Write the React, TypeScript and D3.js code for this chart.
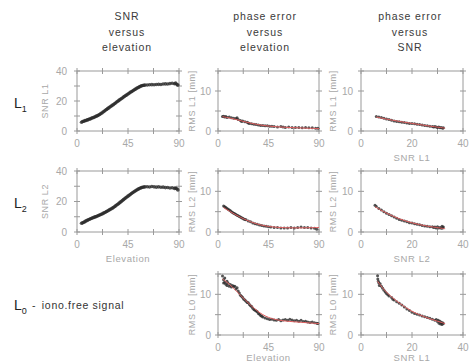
import React from "react";
import * as d3 from "d3";

type Pt = [number, number];

// ---- data ----
const elevTicks = [0, 45, 90];
const elevMinor = [22.5, 67.5];
const snrTicks = [0, 20, 40];
const snrMinor = [10, 30];
const rmsTicks = [0, 10];
const rmsMinor = [5, 15];

const snrL1Elev: Pt[] = [
  [4, 5.8], [5, 6.3], [6, 6.5], [7, 6.9], [8, 7.0], [9, 7.4], [10, 7.6], [11, 8.0], [12, 8.1], [13, 8.6],
  [14, 8.8], [15, 9.1], [16, 9.5], [17, 9.9], [18, 10.2], [19, 10.6], [20, 11.0], [21, 11.6], [22, 12.0],
  [23, 12.7], [24, 13.2], [25, 13.8], [26, 14.3], [27, 14.9], [28, 15.4], [29, 16.0], [30, 16.5], [31, 17.1],
  [32, 17.5], [33, 18.2], [34, 18.7], [35, 19.3], [36, 19.8], [37, 20.4], [38, 21.0], [39, 21.5], [40, 22.0],
  [41, 22.6], [42, 23.1], [43, 23.7], [44, 24.1], [45, 24.7], [46, 25.2], [47, 25.8], [48, 26.2], [49, 26.7],
  [50, 27.2], [51, 27.7], [52, 28.1], [53, 28.6], [54, 29.0], [55, 29.4], [56, 29.8], [57, 30.1], [58, 30.3],
  [59, 30.5], [60, 30.6], [62, 30.7], [64, 30.8], [66, 30.9], [68, 30.8], [70, 31.0], [72, 31.1], [74, 31.0],
  [76, 31.3], [78, 31.4], [80, 31.3], [82, 31.6], [84, 31.8], [86, 31.5], [87, 31.9], [88, 31.2], [89, 30.6],
];

const snrL2Elev: Pt[] = [
  [4, 5.7], [5, 6.0], [6, 6.4], [7, 6.8], [8, 7.3], [9, 7.6], [10, 8.0], [11, 8.4], [12, 8.7], [13, 9.0],
  [14, 9.3], [15, 9.6], [16, 9.9], [17, 10.2], [18, 10.5], [19, 10.8], [20, 11.1], [21, 11.5], [22, 11.8],
  [23, 12.2], [24, 12.6], [25, 13.0], [26, 13.4], [27, 13.8], [28, 14.3], [29, 14.7], [30, 15.1], [31, 15.6],
  [32, 16.0], [33, 16.6], [34, 17.1], [35, 17.7], [36, 18.2], [37, 18.8], [38, 19.4], [39, 20.0], [40, 20.6],
  [41, 21.2], [42, 21.8], [43, 22.4], [44, 23.0], [45, 23.5], [46, 24.1], [47, 24.6], [48, 25.2], [49, 25.7],
  [50, 26.2], [51, 26.7], [52, 27.2], [53, 27.7], [54, 28.1], [55, 28.5], [56, 28.9], [57, 29.1], [58, 29.3],
  [59, 29.5], [60, 29.6], [62, 29.7], [64, 29.5], [66, 29.8], [68, 29.6], [70, 29.4], [72, 29.6], [74, 29.3],
  [76, 29.4], [78, 29.1], [80, 29.2], [82, 28.9], [84, 29.0], [86, 28.6], [87, 28.9], [88, 28.4], [89, 27.6],
];

const rmsL1Elev: Pt[] = [
  [4, 3.6], [5, 3.7], [6, 3.5], [7, 3.6], [8, 3.4], [10, 3.5], [12, 3.3], [14, 3.2], [16, 3.1], [17, 3.3],
  [18, 2.9], [20, 2.6], [21, 2.4], [22, 2.5], [24, 2.3], [26, 2.2], [27, 2.0], [28, 1.9], [30, 1.8], [32, 1.7],
  [34, 1.6], [36, 1.5], [38, 1.4], [40, 1.4], [42, 1.3], [44, 1.3], [46, 1.2], [48, 1.2], [50, 1.1], [53, 1.0],
  [56, 1.1], [58, 1.0], [60, 0.9], [63, 1.0], [66, 0.9], [69, 0.9], [72, 0.9], [75, 0.8], [78, 0.9], [81, 0.8],
  [84, 0.8], [87, 0.7], [89, 0.7],
];
const rmsL1ElevFit: Pt[] = [[4, 3.6], [15, 3.0], [25, 2.2], [35, 1.6], [45, 1.2], [60, 0.9], [75, 0.75], [90, 0.6]];

const rmsL2Elev: Pt[] = [
  [5, 6.4], [6, 6.2], [7, 6.0], [8, 5.8], [9, 5.6], [10, 5.4], [11, 5.2], [12, 5.0], [13, 4.8], [14, 4.6],
  [15, 4.5], [16, 4.3], [17, 4.1], [18, 4.0], [19, 3.8], [20, 3.7], [21, 3.5], [22, 3.4], [23, 3.2], [24, 3.1],
  [25, 3.0], [27, 2.7], [29, 2.5], [31, 2.2], [33, 2.0], [35, 1.9], [37, 1.7], [39, 1.6], [41, 1.5], [43, 1.4],
  [45, 1.3], [47, 1.2], [50, 1.1], [53, 1.1], [56, 1.0], [59, 1.0], [62, 1.0], [65, 1.1], [68, 1.0], [71, 1.1],
  [74, 1.2], [77, 1.1], [80, 1.1], [83, 1.0], [86, 0.9], [88, 0.7],
];
const rmsL2ElevFit: Pt[] = [[5, 6.0], [15, 4.3], [25, 2.9], [35, 1.9], [45, 1.3], [60, 1.0], [75, 1.0], [90, 1.1]];

const rmsL0Elev: Pt[] = [
  [4, 14.5], [5, 13.6], [5, 12.8], [6, 14.0], [6, 13.0], [7, 12.5], [8, 13.2], [8, 12.2], [9, 12.7], [10, 12.0],
  [11, 12.4], [12, 11.8], [13, 12.2], [14, 11.9], [15, 12.0], [16, 11.3], [17, 11.6], [18, 10.8], [19, 10.3],
  [20, 9.8], [21, 9.5], [22, 9.2], [23, 8.8], [24, 8.6], [25, 8.3], [26, 8.0], [27, 7.9], [28, 7.5], [29, 7.2],
  [30, 7.0], [31, 6.6], [32, 6.3], [33, 6.1], [34, 5.9], [35, 5.7], [36, 5.3], [37, 5.1], [38, 4.8], [39, 4.6],
  [40, 4.4], [42, 4.2], [44, 4.0], [46, 3.8], [48, 3.9], [50, 3.7], [52, 3.6], [54, 3.8], [56, 3.5], [58, 3.7],
  [60, 3.8], [62, 3.6], [64, 3.9], [66, 3.7], [68, 3.5], [70, 3.6], [72, 3.4], [74, 3.6], [76, 3.3], [78, 3.4],
  [80, 3.2], [82, 3.1], [84, 3.2], [86, 3.0], [88, 2.9], [89, 2.8],
];
const rmsL0ElevFit: Pt[] = [[4, 13.8], [10, 12.6], [20, 9.8], [30, 7.0], [40, 4.8], [50, 3.8], [60, 3.4], [75, 3.1], [90, 2.8]];

const rmsL1Snr: Pt[] = [
  [6, 3.6], [7, 3.5], [8, 3.4], [9, 3.2], [10, 3.0], [11, 2.9], [12, 2.7], [13, 2.5], [14, 2.4], [15, 2.3],
  [16, 2.2], [17, 2.1], [18, 2.0], [19, 1.9], [20, 1.9], [21, 1.8], [22, 1.7], [23, 1.6], [24, 1.5], [25, 1.4],
  [26, 1.3], [27, 1.2], [28, 1.1], [28.5, 1.0], [29, 1.1], [29.5, 1.0], [30, 0.9], [30.5, 1.0], [31, 0.8],
  [31.5, 0.9], [32, 0.7], [32.3, 0.8],
];
const rmsL1SnrFit: Pt[] = [[6, 3.5], [12, 2.7], [20, 1.9], [26, 1.3], [32, 0.8], [33, 0.7]];

const rmsL2Snr: Pt[] = [
  [5.5, 6.6], [6, 6.3], [7, 5.8], [8, 5.4], [9, 5.0], [10, 4.6], [11, 4.3], [12, 4.0], [13, 3.7], [14, 3.4],
  [15, 3.1], [16, 2.9], [17, 2.7], [18, 2.5], [19, 2.3], [20, 2.2], [21, 2.0], [22, 1.9], [23, 1.8], [24, 1.6],
  [25, 1.5], [26, 1.4], [27, 1.3], [28, 1.3], [28.5, 1.1], [29, 1.2], [29.5, 1.0], [30, 1.3], [30.5, 1.0],
  [31, 1.1], [31.5, 0.9], [31.8, 1.4], [32, 1.0], [32.3, 1.2],
];
const rmsL2SnrFit: Pt[] = [[5.5, 6.2], [10, 4.6], [15, 3.2], [20, 2.2], [26, 1.4], [31, 1.0], [33, 0.8]];

const rmsL0Snr: Pt[] = [
  [6.5, 14.6], [6.6, 13.8], [6.8, 13.2], [7, 12.8], [7.2, 12.2], [7.5, 12.6], [8, 12.0], [8.5, 11.5], [9, 11.0],
  [9.5, 10.6], [10, 10.2], [10.5, 9.9], [11, 9.6], [12, 9.2], [12.5, 8.8], [13, 8.6], [14, 8.2], [15, 7.8],
  [16, 7.4], [17, 6.9], [18, 6.4], [19, 6.0], [20, 5.6], [21, 5.3], [22, 5.1], [23, 4.9], [24, 4.7], [25, 4.5],
  [26, 4.3], [27, 4.1], [28, 3.9], [29, 3.6], [29.5, 3.8], [30, 3.3], [30.3, 3.6], [30.6, 2.9], [31, 3.4],
  [31.2, 2.7], [31.5, 3.1], [31.8, 2.6], [32, 3.0], [32.3, 2.8],
];
const rmsL0SnrFit: Pt[] = [[6.5, 13.2], [10, 10.3], [15, 7.8], [20, 5.7], [25, 4.4], [30, 3.4], [33, 2.8]];

// ---- drawing ----
const AXIS = "#9a9a9a";
const LABEL = "#a8a8a8";
const FONT = "Liberation Sans, Arial, sans-serif";

interface PanelProps {
  x0: number; x1: number; y0: number; y1: number;
  xDomain: [number, number]; yDomain: [number, number];
  xTicks: number[]; xMinor: number[]; yTicks: number[]; yMinor: number[];
  points: Pt[]; fit?: Pt[];
  yLabel: string; yLabelX: number; yTickX: number;
  xLabel?: string; xLabelDy?: number; r?: number;
}

function Panel(p: PanelProps) {
  const x = d3.scaleLinear().domain(p.xDomain).range([p.x0, p.x1]);
  const y = d3.scaleLinear().domain(p.yDomain).range([p.y1, p.y0]);
  const line = d3.line<Pt>().x((d) => x(d[0])).y((d) => y(d[1])).curve(d3.curveBasis);
  const t = 3;
  const allX = [...p.xTicks, ...p.xMinor];
  const allY = [...p.yTicks, ...p.yMinor];
  const ymid = (p.y0 + p.y1) / 2;
  return (
    <g>
      <rect x={p.x0} y={p.y0} width={p.x1 - p.x0} height={p.y1 - p.y0} fill="none" stroke={AXIS} strokeWidth={1} />
      {allX.map((v, i) => (
        <g key={"xt" + i}>
          <line x1={x(v)} x2={x(v)} y1={p.y1 - t} y2={p.y1 + t} stroke={AXIS} />
          <line x1={x(v)} x2={x(v)} y1={p.y0 - t} y2={p.y0 + t} stroke={AXIS} />
        </g>
      ))}
      {allY.map((v, i) => (
        <g key={"yt" + i}>
          <line x1={p.x0 - t} x2={p.x0 + t} y1={y(v)} y2={y(v)} stroke={AXIS} />
          <line x1={p.x1 - t} x2={p.x1 + t} y1={y(v)} y2={y(v)} stroke={AXIS} />
        </g>
      ))}
      {p.xTicks.map((v, i) => (
        <text key={"xl" + i} x={x(v)} y={p.y1 + 16} textAnchor="middle" fontSize={10} fill={LABEL} fontFamily={FONT}>
          {v}
        </text>
      ))}
      {p.yTicks.map((v, i) => (
        <text key={"yl" + i} x={p.yTickX} y={y(v) + 3.5} textAnchor="end" fontSize={10} fill={LABEL} fontFamily={FONT}>
          {v}
        </text>
      ))}
      <text
        transform={`translate(${p.yLabelX},${ymid}) rotate(-90)`}
        textAnchor="middle"
        dy="0.35em"
        fontSize={9}
        letterSpacing={0.6}
        fill={LABEL}
        fontFamily={FONT}
      >
        {p.yLabel}
      </text>
      {p.xLabel && (
        <text
          x={(p.x0 + p.x1) / 2}
          y={p.y1 + (p.xLabelDy ?? 30)}
          textAnchor="middle"
          fontSize={9.5}
          letterSpacing={0.6}
          fill={LABEL}
          fontFamily={FONT}
        >
          {p.xLabel}
        </text>
      )}
      {p.points.map((d, i) => (
        <circle key={"p" + i} cx={x(d[0])} cy={y(d[1])} r={p.r ?? 1.5} fill="#2a2a2a" opacity={0.8} />
      ))}
      {p.fit && <path d={line(p.fit) || ""} fill="none" stroke="#e06060" strokeWidth={1} />}
    </g>
  );
}

const cols = [
  { x0: 77, x1: 179, yLabelX: 45, yTickX: 67 },
  { x0: 218, x1: 319, yLabelX: 192, yTickX: 211 },
  { x0: 361, x1: 463, yLabelX: 333, yTickX: 353 },
];
const rows = [
  { y0: 71, y1: 131 },
  { y0: 171, y1: 232 },
  { y0: 274, y1: 335 },
];

const titles = [
  { cx: 127, lines: ["SNR", "versus", "elevation"] },
  { cx: 265, lines: ["phase error", "versus", "elevation"] },
  { cx: 410, lines: ["phase error", "versus", "SNR"] },
];

export default function App() {
  const elevCommon = { xDomain: [0, 90] as [number, number], xTicks: elevTicks, xMinor: elevMinor };
  const snrCommon = { xDomain: [0, 40] as [number, number], xTicks: snrTicks, xMinor: snrMinor };
  const snrY = { yDomain: [0, 40] as [number, number], yTicks: snrTicks, yMinor: snrMinor };
  const rmsY = { yDomain: [0, 15] as [number, number], yTicks: rmsTicks, yMinor: rmsMinor };
  return (
    <svg width={473} height={362} style={{ position: "absolute", left: 0, top: 0, background: "#fff" }}>
      <rect width={473} height={362} fill="#fff" />
      {titles.map((t, i) => (
        <g key={"t" + i}>
          {t.lines.map((l, j) => (
            <text key={j} x={t.cx} y={20 + j * 15.7} textAnchor="middle" fontSize={10.5} letterSpacing={0.9} fill="#3a3a3a" fontFamily={FONT}>
              {l}
            </text>
          ))}
        </g>
      ))}
      {[
        { y: 108, sub: "1" },
        { y: 208, sub: "2" },
        { y: 310, sub: "0" },
      ].map((r, i) => (
        <text key={"L" + i} x={14} y={r.y} fontSize={14} fill="#222" fontFamily={FONT}>
          L<tspan fontSize={9} dy={4}>{r.sub}</tspan>
        </text>
      ))}
      <text x={32} y={309} fontSize={10.5} letterSpacing={0.7} fill="#333" fontFamily={FONT}>
        - <tspan dx={2}>iono.free signal</tspan>
      </text>

      <Panel {...cols[0]} {...rows[0]} {...elevCommon} {...snrY} points={snrL1Elev} yLabel="SNR L1" r={1.8} />
      <Panel {...cols[1]} {...rows[0]} {...elevCommon} {...rmsY} points={rmsL1Elev} fit={rmsL1ElevFit} yLabel="RMS L1 [mm]" />
      <Panel {...cols[2]} {...rows[0]} {...snrCommon} {...rmsY} points={rmsL1Snr} fit={rmsL1SnrFit} yLabel="RMS L1 [mm]" xLabel="SNR L1" />

      <Panel {...cols[0]} {...rows[1]} {...elevCommon} {...snrY} points={snrL2Elev} yLabel="SNR L2" xLabel="Elevation" r={1.8} />
      <Panel {...cols[1]} {...rows[1]} {...elevCommon} {...rmsY} points={rmsL2Elev} fit={rmsL2ElevFit} yLabel="RMS L2 [mm]" />
      <Panel {...cols[2]} {...rows[1]} {...snrCommon} {...rmsY} points={rmsL2Snr} fit={rmsL2SnrFit} yLabel="RMS L2 [mm]" xLabel="SNR L2" />

      <Panel {...cols[1]} {...rows[2]} {...elevCommon} {...rmsY} points={rmsL0Elev} fit={rmsL0ElevFit} yLabel="RMS L0 [mm]" xLabel="Elevation" xLabelDy={26} />
      <Panel {...cols[2]} {...rows[2]} {...snrCommon} {...rmsY} points={rmsL0Snr} fit={rmsL0SnrFit} yLabel="RMS L0 [mm]" xLabel="SNR L1" xLabelDy={26} />
    </svg>
  );
}
